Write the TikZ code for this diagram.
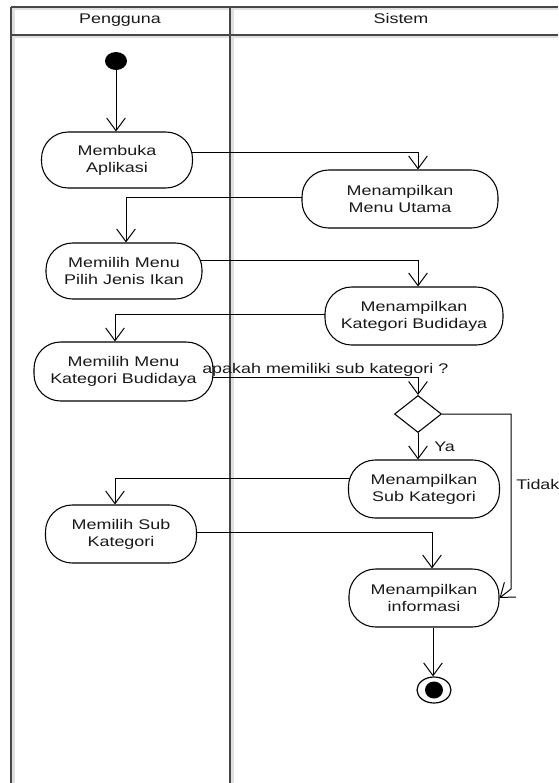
\documentclass[tikz,border=0pt]{standalone}
\usepackage{fontspec}
\setmainfont{Liberation Sans}[FakeStretch=1.28]
\usetikzlibrary{arrows.meta,shapes.geometric,backgrounds}

\begin{document}
\begin{tikzpicture}[x=0.75pt,y=-0.75pt,
  font=\fontsize{10.5}{12.75}\selectfont,
  act/.style={draw=black, line width=0.8pt, fill=white, rounded corners=20pt,
    align=center, inner sep=0pt, text=black!90},
  flow/.style={draw=black, line width=0.75pt,
    -{Straight Barb[length=9.5pt,width=14pt,line width=0.75pt]}},
  lane/.style={draw=black!72, line width=1.5pt},
  laneshade/.style={draw=black!12, line width=2pt},
  lbl/.style={inner sep=0pt, text=black!90}]

\useasboundingbox (0,0) rectangle (558,783);

% swimlane frame
\begin{scope}[on background layer]
  \draw[laneshade] (11,9) -- (558,9);
  \draw[laneshade] (11,37) -- (558,37);
  \draw[laneshade] (13.6,7) -- (13.6,783);
  \draw[laneshade] (232.6,7) -- (232.6,783);
  \draw[lane] (11.3,6.7) -- (558,6.7);
  \draw[lane] (11.3,34.7) -- (558,34.7);
  \draw[lane] (11.3,6.7) -- (11.3,783);
  \draw[lane] (230.3,6.7) -- (230.3,783);
\end{scope}

\node[lbl, anchor=base] (hUser) at (120,23) {Pengguna};
\node[lbl, anchor=base] (hSys) at (401,23) {Sistem};

% activities
\node[fill=black, ellipse, minimum width=16.5pt, minimum height=13.5pt, inner sep=0pt] (start) at (116,61) {};
\node[act, minimum width=113.25pt, minimum height=42pt] (a1) at (117,160) {Membuka\\Aplikasi};
\node[act, minimum width=147pt, minimum height=43.5pt] (s1) at (400,199) {Menampilkan\\Menu Utama};
\node[act, minimum width=117pt, minimum height=42pt] (a2) at (124,271) {Memilih Menu\\Pilih Jenis Ikan};
\node[act, minimum width=133.5pt, minimum height=43.5pt] (s2) at (414,316) {Menampilkan\\Kategori Budidaya};
\node[act, minimum width=134.25pt, minimum height=44.25pt] (a3) at (123.5,371.5) {Memilih Menu\\Kategori Budidaya};
\node[diamond, draw=black, line width=0.8pt, fill=white, minimum width=35.25pt,
  minimum height=27.75pt, inner sep=0pt] (dec) at (418,414) {};
\node[act, minimum width=113.25pt, minimum height=43.5pt] (s3) at (424,489) {Menampilkan\\Sub Kategori};
\node[act, minimum width=113.25pt, minimum height=43.5pt] (a4) at (121,534) {Memilih Sub\\Kategori};
\node[act, minimum width=112.5pt, minimum height=43.5pt] (s4) at (424,598) {Menampilkan\\informasi};
\node[draw=black, ellipse, fill=white, line width=0.9pt, minimum width=25.5pt,
  minimum height=19.5pt, inner sep=0pt] (end) at (434,690) {};
\node[fill=black, ellipse, minimum width=13.5pt, minimum height=12.75pt, inner sep=0pt] (endDot) at (end) {};

% control flow
\begin{scope}[on background layer]
  \draw[flow] (start.south) -- (start.south |- a1.north);
  \draw[flow] (a1.center |- 0,152) -| (s1.north -| 418,0);
  \draw[flow] (s1.center |- 0,197) -| (a2.north -| 126,0);
  \draw[flow] (a2.center |- 0,260) -| (s2.north -| 418,0);
  \draw[flow] (s2.center |- 0,314) -| (a3.north -| 115,0);
  \draw[flow] (a3.center |- 0,377) -| (dec.north);
  \draw[flow] (dec.south) -- (s3.north -| dec.south);
  \draw[flow] (s3.center |- 0,478) -| (a4.north -| 115,0);
  \draw[flow] (a4.center |- 0,532) -| (s4.north -| 432,0);
  \draw[flow] (dec.east) -- (511,414) -- (511,589) -- (s4.east);
  \draw[flow] (s4.south -| 433,0) -- (end.north -| 433,0);
\end{scope}

% guards
\node[lbl, anchor=base west] (qLbl) at (202,373) {apakah memiliki sub kategori ?};
\node[lbl, anchor=base west] (yaLbl) at (434,451) {Ya};
\node[lbl, anchor=base west] (tdLbl) at (516,489) {Tidak};

\end{tikzpicture}
\end{document}
